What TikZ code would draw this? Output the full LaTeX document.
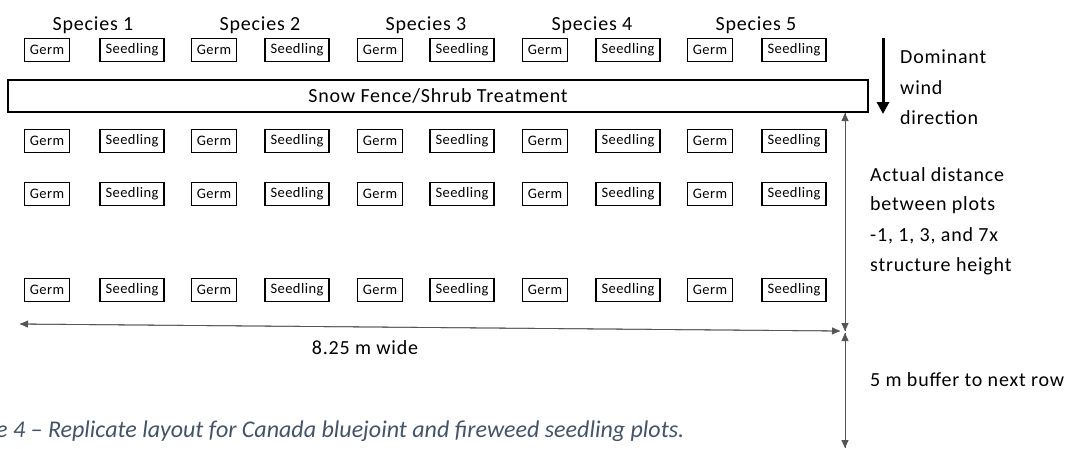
\documentclass[tikz,border=0pt]{standalone}
\usepackage{fontspec}
\setmainfont{Carlito}
\newfontfamily\wide[LetterSpace=4]{Carlito}
\newfontfamily\boxf[LetterSpace=3]{Carlito}
\usetikzlibrary{arrows.meta}
\definecolor{capblue}{HTML}{44546A}
\definecolor{linegray}{HTML}{555555}
\begin{document}
\begin{tikzpicture}[x=1pt,y=-1pt,
  plot/.style={draw=black, line width=1.1pt, inner sep=0pt, font=\boxf\fontsize{14.5}{14.5}\selectfont, minimum height=23pt},
  germ/.style={plot, minimum width=45pt},
  seed/.style={plot, minimum width=64pt},
  label/.style={font=\wide\fontsize{20}{20}\selectfont, inner sep=0pt},
  side/.style={font=\wide\fontsize{20}{20}\selectfont, inner sep=0pt, anchor=west},
  dim/.style={draw=linegray, line width=0.8pt, -{Triangle[length=8pt,width=7pt]}},
]
\useasboundingbox (0,0) rectangle (1085,448);
\clip (0,0) rectangle (1085,448);
\fill[white] (0,0) rectangle (1085,448);

% species labels
\foreach \i/\x in {1/93,2/260,3/426,4/592,5/756}{
  \node[label] (sp\i) at (\x,25) {Species \i};
}
% plots
\foreach \r/\y in {a/50,b/141,c/194,d/290}{
  \foreach \i/\g/\s in {1/47/132,2/214/297,3/380/462,4/545/628,5/710/794}{
    \node[germ] (g\r\i) at (\g,\y) {Germ};
    \node[seed] (s\r\i) at (\s,\y) {Seedling};
  }
}
% fence
\node[draw=black, line width=1.1pt, minimum width=860pt, minimum height=32pt, inner sep=0pt,
      font=\wide\fontsize{20}{20}\selectfont] (fence) at (438,96) {Snow Fence/Shrub Treatment};

% wind arrow
\coordinate (w1) at (883,38);
\coordinate (w2) at (883,114);
\draw[line width=3pt, -{Triangle[length=12pt,width=12pt]}] (w1) -- (w2);
\node[side] (dom) at (900,57) {Dominant};
\node[side] (wind) at (900,88) {wind};
\node[side] (dir) at (900,118) {direction};

% vertical dimension
\coordinate (vtop) at (845,113);
\coordinate (vmid) at (845,331);
\coordinate (vmid2) at (845,333);
\coordinate (vbot) at (845,448);
\draw[dim] (vmid) -- (vtop);
\draw[dim] (vtop) -- (vmid);
\draw[dim] (vmid2) -- (vbot);
\draw[dim] (vbot) -- (vmid2);

% horizontal dimension
\coordinate (hl) at (20,324);
\coordinate (hr) at (840,331);
\draw[dim] (hr) -- (hl);
\draw[dim] (hl) -- (hr);
\node[label] (wide) at (365,348) {8.25 m wide};

% right texts
\node[side] (t1) at (870,175) {Actual distance};
\node[side] (t2) at (870,205) {between plots};
\node[side] (t3) at (870,236) {-1, 1, 3, and 7x};
\node[side] (t4) at (870,266) {structure height};
\node[side] (buf) at (870,380) {5 m buffer to next row};

% caption
\node[anchor=base west, inner sep=0pt, text=capblue, font=\fontsize{24}{24}\selectfont\itshape] (cap) at (-4,437)
  {\llap{Figur}e 4 – Replicate layout for Canada bluejoint and fireweed seedling plots.};
\end{tikzpicture}
\end{document}
